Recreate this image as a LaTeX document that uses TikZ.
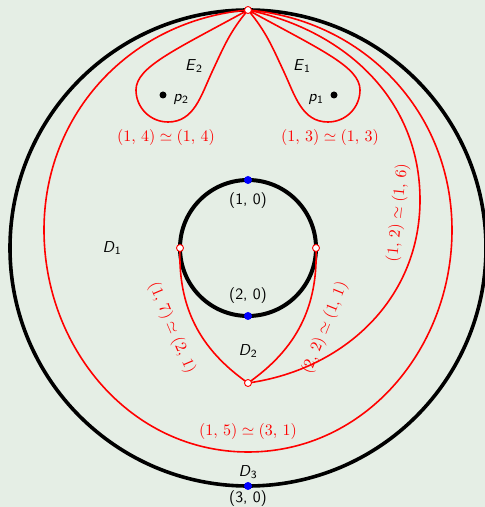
\documentclass[tikz,border=0pt]{standalone}
\usepackage{xcolor}
\definecolor{bg}{HTML}{E5EEE5}
\newcommand{\slab}[2]{\textsf{\textit{#1}\textsubscript{#2}}}
\newcommand{\pr}[2]{(#1,\,#2)}
\tikzset{
  bk/.style={draw=black, line width=3.6pt},
  rc/.style={draw=red, line width=1.6pt},
  rdot/.style={circle, draw=red, fill=white, line width=0.9pt, inner sep=0pt, minimum size=7pt},
  bdot/.style={circle, fill=blue, inner sep=0pt, minimum size=8pt},
  kdot/.style={circle, fill=black, inner sep=0pt, minimum size=7pt},
  rlab/.style={text=red, inner sep=1pt, scale=1.6},
  klab/.style={text=black, inner sep=1pt, scale=1.58, font=\sffamily}
}
\begin{document}
\begin{tikzpicture}[x=1pt,y=1pt]
\fill[bg] (0,0) rectangle (485,507);
\useasboundingbox (0,0) rectangle (485,507);
\coordinate (O) at (248,259);
\coordinate (T) at (248,497);
\coordinate (B) at (248,124);
\coordinate (L) at (180,259);
\coordinate (R) at (316,259);
% circles
\draw[bk] (O) circle[radius=238];
\draw[bk, line width=4pt] (O) circle[radius=68];
% red curves
\draw[rc] (T) to[out=185,in=90] (44,277) to[out=-90,in=180] (248,55)
  to[out=0,in=-90] (452,277) to[out=90,in=-5] (T);
\draw[rc] (B) to[out=8,in=-90] (420,307) to[out=90,in=-12] (T);
\draw[rc] (R) to[out=-88,in=35] (B);
\draw[rc] (L) to[out=-92,in=145] (B);
% E2 loop
\draw[rc] (T) .. controls (175,457) and (136,440) .. (136,417)
  to[out=-90,in=180] (168,385) to[out=0,in=-115] (212,435) to[out=65,in=230] (T);
% E1 loop
\draw[rc] (T) .. controls (321,457) and (360,440) .. (360,417)
  to[out=-90,in=0] (328,385) to[out=180,in=-65] (284,435) to[out=115,in=-50] (T);
% points
\node[kdot] (p2) at (163,412) {};
\node[kdot] (p1) at (334,412) {};
\node[bdot] (q1) at (248,327) {};
\node[bdot] (q2) at (248,191) {};
\node[bdot] (q3) at (248,21) {};
\node[rdot] (tT) at (T) {};
\node[rdot] (tB) at (B) {};
\node[rdot] (tL) at (L) {};
\node[rdot] (tR) at (R) {};
% black labels
\node[klab] (lE2) at (194,441) {\slab{E}{2}};
\node[klab] (lE1) at (302,441) {\slab{E}{1}};
\node[klab] (lp2) at (181,408) {\slab{p}{2}};
\node[klab] (lp1) at (316,408) {\slab{p}{1}};
\node[klab] (lD1) at (112,259) {\slab{D}{1}};
\node[klab] (lD2) at (248,156) {\slab{D}{2}};
\node[klab] (lD3) at (248,35) {\slab{D}{3}};
\node[klab] (l10) at (248,306) {(1, 0)};
\node[klab] (l20) at (248,211) {(2, 0)};
\node[klab] (l30) at (248,8) {(3, 0)};
% red labels
\node[rlab] (r14) at (166,369) {$\pr14\simeq\pr14$};
\node[rlab] (r13) at (330,369) {$\pr13\simeq\pr13$};
\node[rlab] (r15) at (248,75) {$\pr15\simeq\pr31$};
\node[rlab, rotate=84] (r12) at (398,294) {$\pr12\simeq\pr16$};
\node[rlab, rotate=68] (r22) at (325,179) {$\pr22\simeq\pr11$};
\node[rlab, rotate=-67] (r17) at (172,179) {$\pr17\simeq\pr21$};
\end{tikzpicture}
\end{document}
